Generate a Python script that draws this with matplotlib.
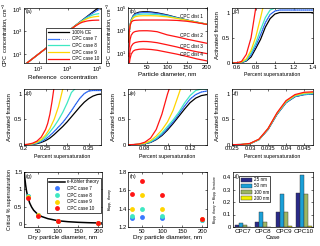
import numpy as np
import matplotlib
matplotlib.use('Agg')
import matplotlib.pyplot as plt
from matplotlib.ticker import FixedLocator, NullLocator
from matplotlib.lines import Line2D
from matplotlib.legend_handler import HandlerTuple

plt.rcParams['font.family'] = ['Liberation Sans', 'DejaVu Sans']
plt.rcParams['mathtext.fontset'] = 'custom'
plt.rcParams['mathtext.rm'] = 'Liberation Sans'
plt.rcParams['mathtext.it'] = 'Liberation Sans:italic'
plt.rcParams['axes.linewidth'] = 0.5

# ---------------- data ----------------
case_labels = ['100% CE', 'CPC case 7', 'CPC case 8', 'CPC case 9', 'CPC case 10']

# (a) CPC vs reference concentration
ref_conc = [1, 10, 100, 1000, 2000, 3000, 5000, 7000, 1e4, 2e4, 3e4, 5e4, 7e4, 1e5, 1.3e5]
a_ce = [1, 10, 100, 1000, 2000, 3000, 5000, 7000, 1e4, 2e4, 3e4, 5e4, 7e4, 1e5, 1.3e5]
a_case7 = [1, 10, 100, 995, 1980, 2950, 4880, 6780, 9500, 18500, 26500, 41000, 54000, 70000, 82000]
a_case8 = [1, 10, 100, 990, 1950, 2900, 4700, 6400, 9000, 16000, 21000, 28000, 32000, 35000, 37000]
a_case9 = [1, 10, 100, 985, 1930, 2850, 4550, 6100, 8000, 13000, 15800, 18500, 19800, 21000, 21500]
a_case10 = [1, 10, 100, 975, 1880, 2720, 4150, 5300, 6500, 8200, 8900, 9500, 9700, 9850, 9900]

# (b) size distributions
diam = [4, 5, 7, 10, 15, 20, 30, 40, 50, 60, 75, 100, 125, 150, 175, 200]
b1_ce = [100, 800, 3000, 9000, 22000, 34000, 46000, 50000, 50000, 47000, 40000, 26000, 15000, 9000, 5800, 3800]
b1_case7 = [100, 780, 2900, 8600, 20000, 30000, 39000, 42000, 42000, 40000, 35000, 24000, 14000, 8800, 5700, 3800]
b1_case8 = [100, 760, 2800, 8000, 17000, 24000, 29000, 31000, 31000, 30000, 28000, 21000, 13500, 8700, 5700, 3800]
b1_case9 = [100, 740, 2700, 7200, 14000, 18000, 21000, 22000, 22000, 22000, 21000, 17500, 12500, 8500, 5600, 3800]
b1_case10 = [100, 700, 2500, 6000, 8000, 8600, 9000, 9100, 9100, 9100, 9100, 9000, 8400, 7000, 5200, 3700]
b2_case10 = [5, 30, 150, 400, 700, 850, 980, 1000, 1000, 950, 820, 430, 280, 175, 115, 75]
b3_case10 = [0.8, 3, 15, 40, 70, 88, 105, 110, 108, 100, 85, 55, 35, 20, 13, 9]
b4_case10 = [0.5, 1.0, 3, 8, 15, 19, 22, 23, 22, 21, 18, 12, 8, 5, 3, 2]
dist_labels = ['CPC dist 1', 'CPC dist 2', 'CPC dist 3', 'CPC dist 4']

# (c) activation curves, dist 1
c_x = [0.55, 0.6, 0.65, 0.7, 0.75, 0.8, 0.85, 0.9, 0.95, 1.0, 1.05, 1.1, 1.2, 1.3, 1.4]
c_ce = [0, 0, 0.01, 0.04, 0.12, 0.29, 0.47, 0.71, 0.88, 0.97, 1.0, 1.0, 1.0, 1.0, 1.0]
c_case7 = [0, 0, 0.01, 0.05, 0.16, 0.34, 0.56, 0.80, 0.96, 1.03, 1.05, 1.05, 1.05, 1.05, 1.05]
c_case8 = [0, 0, 0.015, 0.06, 0.20, 0.40, 0.66, 0.90, 1.05, 1.09, 1.1, 1.1, 1.1, 1.1, 1.1]
c_case9 = [0, 0, 0.02, 0.08, 0.25, 0.52, 0.90, 1.30, 1.6, 1.8, 1.9, 2.0, 2.0, 2.0, 2.0]
c_case10 = [0, 0.005, 0.03, 0.17, 0.50, 1.10, 1.7, 2.2, 2.5, 2.6, 2.7, 2.7, 2.7, 2.7, 2.7]

# (d) dist 2
d_x10 = [0.2, 0.21, 0.22, 0.23, 0.24, 0.25, 0.255, 0.26, 0.265, 0.27]
d_case10 = [0.0, 0.01, 0.03, 0.07, 0.15, 0.30, 0.42, 0.60, 0.85, 1.15]
d_x9 = [0.2, 0.21, 0.22, 0.23, 0.24, 0.25, 0.26, 0.27, 0.28, 0.29, 0.295]
d_case9 = [0, 0.005, 0.02, 0.05, 0.10, 0.19, 0.32, 0.50, 0.75, 1.10, 1.30]
d_x = [0.2, 0.21, 0.22, 0.23, 0.24, 0.25, 0.26, 0.27, 0.28, 0.29, 0.30, 0.31, 0.32,
       0.33, 0.34, 0.35, 0.36, 0.37, 0.378]
d_case8 = [0, 0.004, 0.015, 0.04, 0.08, 0.15, 0.25, 0.36, 0.49, 0.64, 0.82, 1.03, 1.12,
           1.15, 1.15, 1.15, 1.15, 1.15, 1.15]
d_case7 = [0, 0.003, 0.01, 0.03, 0.06, 0.11, 0.18, 0.26, 0.35, 0.44, 0.55, 0.67, 0.80,
           0.92, 1.01, 1.06, 1.07, 1.07, 1.07]
d_ce = [0, 0.002, 0.008, 0.02, 0.045, 0.08, 0.13, 0.20, 0.28, 0.36, 0.45, 0.55, 0.65,
        0.75, 0.84, 0.91, 0.96, 0.99, 1.0]

# (e) dist 3
e_x10 = [0.065, 0.07, 0.075, 0.08, 0.085, 0.09, 0.095, 0.1, 0.103]
e_case10 = [0, 0.003, 0.015, 0.05, 0.13, 0.30, 0.60, 1.0, 1.2]
e_x9 = [0.065, 0.07, 0.075, 0.08, 0.085, 0.09, 0.095, 0.1, 0.105, 0.11, 0.113]
e_case9 = [0, 0.002, 0.01, 0.03, 0.08, 0.17, 0.29, 0.45, 0.68, 1.0, 1.2]
e_x = [0.065, 0.07, 0.075, 0.08, 0.085, 0.09, 0.095, 0.1, 0.105, 0.11, 0.115, 0.12, 0.125, 0.13, 0.135]
e_case8 = [0, 0.002, 0.008, 0.025, 0.06, 0.13, 0.23, 0.36, 0.49, 0.64, 0.82, 0.97, 1.07, 1.1, 1.1]
e_case7 = [0, 0.002, 0.007, 0.022, 0.05, 0.11, 0.20, 0.32, 0.45, 0.60, 0.76, 0.90, 0.99, 1.04, 1.06]
e_ce = [0, 0.001, 0.006, 0.02, 0.045, 0.10, 0.18, 0.29, 0.42, 0.56, 0.70, 0.83, 0.92, 0.97, 0.99]

# (f) dist 4
f_x = [0.025, 0.0275, 0.03, 0.0325, 0.035, 0.0375, 0.04, 0.0425, 0.045, 0.0475]
f_ce = [0, 0.003, 0.02, 0.10, 0.30, 0.60, 0.83, 0.95, 0.99, 1.0]
f_case7 = [0, 0.003, 0.02, 0.10, 0.30, 0.60, 0.83, 0.95, 0.99, 1.0]
f_case8 = [0, 0.003, 0.021, 0.10, 0.31, 0.61, 0.84, 0.96, 1.0, 1.01]
f_case9 = [0, 0.0035, 0.023, 0.105, 0.315, 0.62, 0.855, 0.975, 1.02, 1.03]
f_case10 = [0, 0.004, 0.025, 0.11, 0.32, 0.63, 0.87, 0.99, 1.035, 1.045]

# (g) critical supersaturation
kohler_d = [16, 18, 20, 22, 25, 30, 35, 40, 50, 60, 75, 100, 125, 150, 175, 200, 210]
kohler_sc = [1.6, 1.33, 1.13, 0.97, 0.8, 0.61, 0.49, 0.4, 0.285, 0.22, 0.16, 0.1, 0.072,
             0.055, 0.044, 0.036, 0.033]
dry_d = [25, 50, 100, 200]
g_case7 = [0.80, 0.27, 0.095, 0.032]
g_case8 = [0.82, 0.27, 0.095, 0.032]
g_case9 = [0.78, 0.26, 0.093, 0.031]
g_case10 = [0.75, 0.25, 0.09, 0.03]

# (h) apparent kappa
h_case7 = [1.295, 1.31, 1.295, 1.275]
h_case8 = [1.32, 1.40, 1.32, 1.28]
h_case9 = [1.40, 1.55, 1.40, 1.285]
h_case10 = [1.555, 1.70, 1.55, 1.29]

# (i) kappa difference
i_cases = ['CPC7', 'CPC8', 'CPC9', 'CPC10']
i_size_labels = ['25 nm', '50 nm', '100 nm', '200 nm']
i_25 = [0.013, 0.039, 0.123, 0.275]
i_50 = [0.034, 0.120, 0.267, 0.420]
i_100 = [0.019, 0.037, 0.120, 0.265]
i_200 = [0.003, 0.003, 0.005, 0.012]

# ---------------- styles ----------------
COL = ['black', '#3a78ff', '#3fe8c2', '#ffd500', '#ff1414']
NAVY = '#0a1f9a'
BAR_COL = ['#2a2a88', '#1aa0d8', '#9db664', '#f2f200']
LW = 0.9
FS_TICK = 4.2
FS_LAB = 4.5
FS_SMALL = 3.8

W, H = 320, 246
fig = plt.figure(figsize=(3.2, 2.46), dpi=100)


def add_ax(x0, x1, y0, y1):
    ax = fig.add_axes([x0 / W, 1 - y1 / H, (x1 - x0) / W, (y1 - y0) / H])
    ax.tick_params(direction='in', top=True, right=True, length=1.6, width=0.4,
                   labelsize=FS_TICK, pad=1.2)
    ax.minorticks_off()
    return ax


def panel_label(ax, s):
    ax.text(0.02, 0.97, s, transform=ax.transAxes, ha='left', va='top', fontsize=FS_SMALL)


def plot_case7(ax, x, y):
    ax.plot(x, y, color=COL[1], lw=LW)
    ax.plot(x, y, color=NAVY, lw=0.4, ls=(0, (1, 2.5)))


cols = [(24, 100.7), (128, 207), (232, 313)]
rows = [(7.5, 63), (89, 144.7), (172, 227)]

# ---- (a)
ax = add_ax(cols[0][0], cols[0][1], rows[0][0], rows[0][1])
ax.set_xscale('log'); ax.set_yscale('log')
h0, = ax.plot(ref_conc, a_ce, color=COL[0], lw=LW)
plot_case7(ax, ref_conc, a_case7)
h2, = ax.plot(ref_conc, a_case8, color=COL[2], lw=LW)
h3, = ax.plot(ref_conc, a_case9, color=COL[3], lw=LW)
h4, = ax.plot(ref_conc, a_case10, color=COL[4], lw=LW)
ax.set_xlim(1, 1.8e5); ax.set_ylim(1.6, 1.3e5)
ax.xaxis.set_major_locator(FixedLocator([10, 1e3, 1e5]))
ax.yaxis.set_major_locator(FixedLocator([10, 1e3, 1e5]))
ax.xaxis.set_minor_locator(NullLocator()); ax.yaxis.set_minor_locator(NullLocator())
ax.set_xlabel('Reference  concentration', fontsize=FS_LAB, labelpad=1)
ax.set_ylabel('CPC  concentration, cm$^{-3}$', fontsize=4.0, labelpad=1)
panel_label(ax, '(a)')
h1 = (Line2D([], [], color=COL[1], lw=LW), Line2D([], [], color=NAVY, lw=0.4, ls=(0, (1, 2.5))))
leg = ax.legend([h0, h1, h2, h3, h4], case_labels, loc='lower right', fontsize=3.3,
                handlelength=4.5, handletextpad=0.6, labelspacing=0.35, borderpad=0.4,
                borderaxespad=0, fancybox=False, framealpha=1,
                handler_map={tuple: HandlerTuple(ndivide=None, pad=0)})
leg.get_frame().set_edgecolor('black'); leg.get_frame().set_linewidth(0.5)

# ---- (b)
ax = add_ax(cols[1][0], cols[1][1], rows[0][0], rows[0][1])
ax.set_yscale('log')
ax.plot(diam, b1_ce, color=COL[0], lw=LW)
ax.plot(diam, b1_case7, color=COL[1], lw=LW)
ax.plot(diam, b1_case8, color=COL[2], lw=LW)
ax.plot(diam, b1_case9, color=COL[3], lw=LW)
ax.plot(diam, b1_case10, color=COL[4], lw=LW)
for arr in (b2_case10, b3_case10, b4_case10):
    ax.plot(diam, arr, color=COL[4], lw=LW)
ax.set_xlim(2, 200); ax.set_ylim(1.3, 1.2e5)
ax.xaxis.set_major_locator(FixedLocator([50, 100, 150, 200]))
ax.yaxis.set_major_locator(FixedLocator([10, 1e3, 1e5]))
ax.yaxis.set_minor_locator(NullLocator())
ax.set_xlabel('Particle diameter, nm', fontsize=FS_LAB, labelpad=1)
ax.set_ylabel('CPC  concentration, cm$^{-3}$', fontsize=4.0, labelpad=1)
panel_label(ax, '(b)')
for lab, yf in zip(dist_labels, [0.83, 0.49, 0.29, 0.16]):
    ax.text(0.95, yf, lab, transform=ax.transAxes, ha='right', va='center', fontsize=3.4)

# ---- activation panels
def act_panel(ax, xlim, ticks, ticklabels, label):
    ax.set_xlim(*xlim); ax.set_ylim(0, 1.1)
    ax.xaxis.set_major_locator(FixedLocator(ticks))
    ax.set_xticklabels(ticklabels)
    ax.yaxis.set_major_locator(FixedLocator([0, 0.5, 1]))
    ax.set_yticklabels(['0', '0.5', '1'])
    ax.set_xlabel('Percent supersaturation', fontsize=FS_SMALL, labelpad=2)
    ax.set_ylabel('Activated fraction', fontsize=FS_LAB, labelpad=1.5)
    panel_label(ax, label)

ax = add_ax(cols[2][0], cols[2][1], rows[0][0], rows[0][1])
ax.plot(c_x, c_ce, color=COL[0], lw=LW)
plot_case7(ax, c_x, c_case7)
ax.plot(c_x, c_case8, color=COL[2], lw=LW)
ax.plot(c_x, c_case9, color=COL[3], lw=LW)
ax.plot(c_x, c_case10, color=COL[4], lw=LW)
act_panel(ax, (0.55, 1.4), [0.6, 0.8, 1.0, 1.2, 1.4], ['0.6', '0.8', '1', '1.2', '1.4'], '(c)')

ax = add_ax(cols[0][0], cols[0][1], rows[1][0], rows[1][1])
ax.plot(d_x, d_ce, color=COL[0], lw=LW)
plot_case7(ax, d_x, d_case7)
ax.plot(d_x, d_case8, color=COL[2], lw=LW)
ax.plot(d_x9, d_case9, color=COL[3], lw=LW)
ax.plot(d_x10, d_case10, color=COL[4], lw=LW)
act_panel(ax, (0.2, 0.378), [0.2, 0.25, 0.3, 0.35], ['0.2', '0.25', '0.3', '0.35'], '(d)')

ax = add_ax(cols[1][0], cols[1][1], rows[1][0], rows[1][1])
ax.plot(e_x, e_ce, color=COL[0], lw=LW)
plot_case7(ax, e_x, e_case7)
ax.plot(e_x, e_case8, color=COL[2], lw=LW)
ax.plot(e_x9, e_case9, color=COL[3], lw=LW)
ax.plot(e_x10, e_case10, color=COL[4], lw=LW)
act_panel(ax, (0.065, 0.135), [0.08, 0.1, 0.12], ['0.08', '0.1', '0.12'], '(e)')

ax = add_ax(cols[2][0], cols[2][1], rows[1][0], rows[1][1])
ax.plot(f_x, f_ce, color=COL[0], lw=LW)
plot_case7(ax, f_x, f_case7)
ax.plot(f_x, f_case8, color=COL[2], lw=LW)
ax.plot(f_x, f_case9, color=COL[3], lw=LW)
ax.plot(f_x, f_case10, color=COL[4], lw=LW)
act_panel(ax, (0.025, 0.0475), [0.025, 0.03, 0.035, 0.04, 0.045],
          ['0.025', '0.03', '0.035', '0.04', '0.045'], '(f)')

# ---- (g)
ax = add_ax(24, 101.5, rows[2][0], rows[2][1])
hk, = ax.plot(kohler_d, kohler_sc, color='black', lw=1.1)
hg = []
for arr, c in zip([g_case7, g_case8, g_case9, g_case10], COL[1:]):
    hh, = ax.plot(dry_d, arr, 'o', color=c, ms=3.5, mec='none', ls='none')
    hg.append(hh)
ax.set_xlim(16, 208); ax.set_ylim(-0.08, 1.5)
ax.xaxis.set_major_locator(FixedLocator([50, 100, 150, 200]))
ax.yaxis.set_major_locator(FixedLocator([0, 0.5, 1, 1.5]))
ax.set_yticklabels(['0', '0.5', '1', '1.5'])
ax.set_xlabel('Dry particle diameter, nm', fontsize=FS_LAB, labelpad=1)
ax.set_ylabel('Critical % supersaturation', fontsize=FS_SMALL, labelpad=1.5)
panel_label(ax, '(g)')
leg = ax.legend([hk] + hg, ['κ-Köhler theory'] + case_labels[1:], loc='upper right',
                bbox_to_anchor=(0.995, 0.9), fontsize=3.3, handlelength=3.5,
                handletextpad=0.6, labelspacing=0.35, borderpad=0.4, borderaxespad=0,
                fancybox=False, framealpha=1)
leg.get_frame().set_edgecolor('black'); leg.get_frame().set_linewidth(0.5)

# ---- (h)
ax = add_ax(128, 207, rows[2][0], rows[2][1])
for arr, c in zip([h_case7, h_case8, h_case9, h_case10], COL[1:]):
    ax.plot(dry_d, arr, 'o', color=c, ms=3.5, mec='none', ls='none')
ax.set_xlim(15, 212); ax.set_ylim(1.2, 1.8)
ax.xaxis.set_major_locator(FixedLocator([50, 100, 150, 200]))
ax.yaxis.set_major_locator(FixedLocator([1.2, 1.4, 1.6, 1.8]))
ax.set_xlabel('Dry particle diameter, nm', fontsize=FS_LAB, labelpad=1)
ax.set_ylabel(r'$\kappa_{\mathrm{app,\ theory}}$', fontsize=FS_SMALL, labelpad=1.5)
panel_label(ax, '(h)')

# ---- (i)
ax = add_ax(233, 313, rows[2][0], rows[2][1])
xpos = np.arange(1, len(i_cases) + 1)
bw = 0.2
hb = []
for k, (arr, c) in enumerate(zip([i_25, i_50, i_100, i_200], BAR_COL)):
    b = ax.bar(xpos + (k - 1.5) * bw, arr, width=bw, color=c, edgecolor='#303030', linewidth=0.3)
    hb.append(b)
ax.set_xlim(0.5, 4.45); ax.set_ylim(0, 0.44)
ax.set_xticks(xpos)
ax.set_xticklabels(i_cases, fontsize=FS_LAB)
ax.yaxis.set_major_locator(FixedLocator([0, 0.1, 0.2, 0.3, 0.4]))
ax.set_yticklabels(['0', '0.1', '0.2', '0.3', '0.4'])
ax.tick_params(axis='x', top=False, length=0)
ax.set_xlabel('Case', fontsize=FS_LAB, labelpad=1)
ax.set_ylabel(r'$\kappa_{\mathrm{app,\ theory}} - \kappa_{\mathrm{app,\ literature}}$',
              fontsize=3.4, labelpad=1.5)
panel_label(ax, '(i)')
leg = ax.legend(hb, i_size_labels, loc='upper left', bbox_to_anchor=(0.08, 0.93),
                fontsize=3.3, handlelength=2.4, handleheight=0.9, handletextpad=0.4,
                labelspacing=0.25, borderpad=0.3, borderaxespad=0, fancybox=False,
                framealpha=1)
leg.get_frame().set_edgecolor('black'); leg.get_frame().set_linewidth(0.5)

fig.savefig('out.png', dpi=100)
